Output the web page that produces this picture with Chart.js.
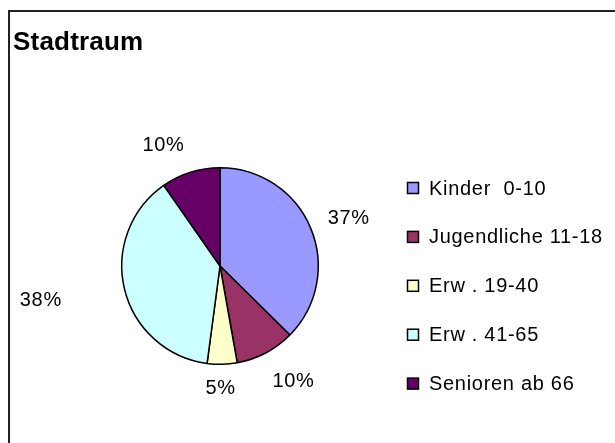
<!DOCTYPE html>
<html>
<head>
    <meta charset="utf-8">
    <title>Stadtraum</title>
    <script src="https://cdn.jsdelivr.net/npm/chart.js@4.4.0/dist/chart.umd.min.js"></script>
    <style>
        html, body {
            margin: 0;
            padding: 0;
            background: #fff;
            overflow: hidden;
        }
        #wrap {
            position: relative;
            width: 615px;
            height: 443px;
            font-family: "Liberation Sans", Arial, sans-serif;
        }
        #frame {
            position: absolute;
            left: 8px;
            top: 10px;
            width: 620px;
            height: 450px;
            border-top: 2px solid #222;
            border-left: 2px solid #222;
        }
        #title {
            position: absolute;
            left: 13px;
            top: 28px;
            font-size: 26px;
            line-height: 26px;
            font-weight: bold;
            letter-spacing: 0.2px;
            color: #000;
        }
        #canvas {
            position: absolute;
            left: 0;
            top: 0;
        }
    </style>
</head>

<body>
    <div id="wrap">
        <div id="frame"></div>
        <canvas id="canvas" width="615" height="443"></canvas>
        <div id="title">Stadtraum</div>
    </div>

    <script>
        // Altersgruppen and their shares (percent)
        const categories = ['Kinder  0-10', 'Jugendliche 11-18', 'Erw . 19-40', 'Erw . 41-65', 'Senioren ab 66'];
        const shares = [37.4, 9.8, 4.9, 38.2, 9.7];
        const colors = ['#9999FF', '#993366', '#FFFFCC', '#CCFFFF', '#660066'];
        // label placement: extra distance from the pie edge (px) and a small turn (deg)
        const labelGap = [17, 20, 16, 62, 20];
        const labelTurn = [2, -5, 1, 3, -7.5];

        const fontFamily = '"Liberation Sans", Arial, sans-serif';

        // percent labels outside the slices
        const pctLabels = {
            id: 'pctLabels',
            afterDatasetsDraw(chart) {
                const ctx = chart.ctx;
                const meta = chart.getDatasetMeta(0);
                const total = shares.reduce((a, b) => a + b, 0);
                ctx.save();
                ctx.font = '20px ' + fontFamily;
                ctx.letterSpacing = '0.7px';
                ctx.fillStyle = '#000';
                ctx.textAlign = 'center';
                ctx.textBaseline = 'middle';
                meta.data.forEach(function (arc, i) {
                    const mid = (arc.startAngle + arc.endAngle) / 2 + labelTurn[i] * Math.PI / 180;
                    const txt = Math.round(shares[i] / total * 100) + '%';
                    const w = ctx.measureText(txt).width;
                    const h = 15;
                    const cx = Math.cos(mid), sy = Math.sin(mid);
                    const d = arc.outerRadius + labelGap[i] + Math.abs(cx) * w / 2 + Math.abs(sy) * h / 2;
                    ctx.fillText(txt, arc.x + cx * d, arc.y + sy * d + 1);
                });
                ctx.restore();
            }
        };

        // legend on the right side
        const sideLegend = {
            id: 'sideLegend',
            afterDraw(chart) {
                const ctx = chart.ctx;
                ctx.save();
                ctx.font = '20px ' + fontFamily;
                ctx.letterSpacing = '0.7px';
                ctx.textBaseline = 'middle';
                categories.forEach(function (name, i) {
                    const y = 188 + i * 48.9;
                    ctx.fillStyle = colors[i];
                    ctx.fillRect(407.5, y - 5.5, 11, 11);
                    ctx.lineWidth = 1.5;
                    ctx.strokeStyle = '#000';
                    ctx.strokeRect(407.5, y - 5.5, 11, 11);
                    ctx.fillStyle = '#000';
                    ctx.fillText(name, 429, y + 1);
                });
                ctx.restore();
            }
        };

        new Chart(document.getElementById('canvas'), {
            type: 'pie',
            data: {
                labels: categories,
                datasets: [{
                    data: shares,
                    backgroundColor: colors,
                    borderColor: '#000',
                    borderWidth: 1.5
                }]
            },
            options: {
                responsive: false,
                animation: false,
                events: [],
                layout: {
                    padding: { left: 121, top: 167, right: 296, bottom: 78 }
                },
                plugins: {
                    legend: { display: false },
                    tooltip: { enabled: false },
                    title: { display: false }
                }
            },
            plugins: [pctLabels, sideLegend]
        });
    </script>
</body>
</html>
